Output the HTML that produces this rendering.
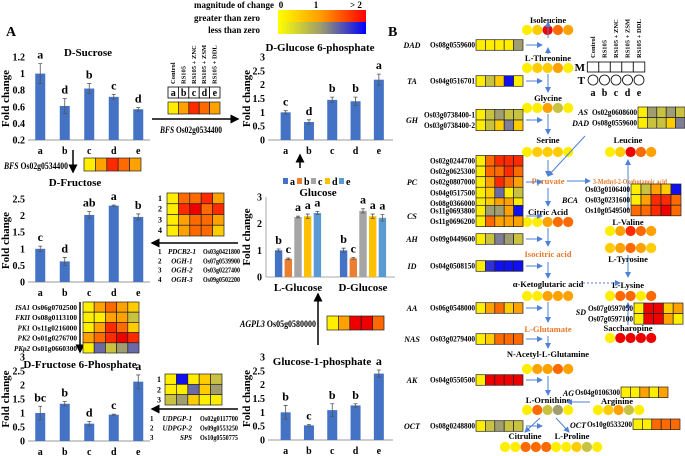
<!DOCTYPE html>
<html><head><meta charset="utf-8">
<style>
html,body{margin:0;padding:0;background:#fff;}
svg{display:block;font-family:"Liberation Serif",serif;font-weight:bold;}
</style></head>
<body>
<svg id="fig" width="685" height="456" viewBox="0 0 685 456" xmlns="http://www.w3.org/2000/svg">
<defs>
<linearGradient id="gTop" x1="0" x2="1"><stop offset="0" stop-color="#ffff00"/><stop offset="0.5" stop-color="#ff9900"/><stop offset="1" stop-color="#ff0000"/></linearGradient>
<linearGradient id="gBot" x1="0" x2="1"><stop offset="0" stop-color="#ffff00"/><stop offset="0.5" stop-color="#9a9a70"/><stop offset="1" stop-color="#0000ff"/></linearGradient>
<marker id="ah" markerWidth="6" markerHeight="6" refX="5" refY="3" orient="auto"><path d="M0,0 L6,3 L0,6 z" fill="#000"/></marker>
<marker id="ab" markerWidth="6" markerHeight="6" refX="5" refY="3" orient="auto"><path d="M0,0 L6,3 L0,6 z" fill="#4f81d6"/></marker>
</defs>
</svg>
<script>
// ---------- chart data ----------
var cats = ['a','b','c','d','e'];
var sucroseVals = [1.0, 0.61, 0.82, 0.72, 0.57];
var sucroseErr = [0.12, 0.09, 0.06, 0.03, 0.02];
var sucroseLet = ['a','d','b','c','d'];
var sucroseTicks = [0.2,0.4,0.6,0.8,1,1.2];
var fructoseVals = [1.0, 0.62, 2.02, 2.3, 1.96];
var fructoseErr = [0.08, 0.12, 0.1, 0.02, 0.09];
var fructoseLet = ['c','d','ab','a','b'];
var f6pVals = [1.0, 1.33, 0.62, 0.94, 2.12];
var f6pErr = [0.24, 0.08, 0.08, 0.02, 0.24];
var f6pLet = ['bc','b','d','c','a'];
var g6pVals = [1.0, 0.65, 1.45, 1.4, 2.18];
var g6pErr = [0.06, 0.08, 0.1, 0.15, 0.2];
var g6pLet = ['c','d','b','b','a'];
var g1pVals = [1.0, 0.53, 1.08, 1.25, 2.4];
var g1pErr = [0.25, 0.03, 0.23, 0.06, 0.13];
var g1pLet = ['b','c','b','b','a'];
var ticks03 = [0,0.5,1,1.5,2,2.5,3];
var ticks025 = [0,0.5,1,1.5,2,2.5];
var glucoseGroups = ['L-Glucose','D-Glucose'];
var lGlucoseVals = [1.0, 0.68, 2.25, 2.28, 2.4];
var lGlucoseErr = [0.05, 0.03, 0.03, 0.08, 0.06];
var dGlucoseVals = [1.0, 0.7, 2.48, 2.28, 2.22];
var dGlucoseErr = [0.08, 0.03, 0.08, 0.08, 0.12];
var glucoseLet = ['b','c','a','a','a'];
var glucoseTicks = [0,1,2,3];
var seriesColors = ['#4472c4','#ed7d31','#a5a5a5','#ffc000','#5b9bd5'];

var C = {Y:'#ffee00',L:'#ffcc00',O:'#ffa200',D:'#ff6a00',R:'#ff2a00',X:'#ee0000',K:'#c8c240',G:'#a09e70',S:'#7e7e96',P:'#6a6aa8',B:'#1010f0',Q:'#3030d8'};

var svg = document.getElementById('fig');
var NS = 'http://www.w3.org/2000/svg';
function mk(tag, parent){ var e=document.createElementNS(NS,tag); (parent||svg).appendChild(e); return e; }
function set(e,o){ for(var k in o) e.setAttribute(k,o[k]); return e; }
function txt(x,y,s,size,anchor,opt){
  var t=mk('text'); set(t,{x:x,y:y,'font-size':size||10,'text-anchor':anchor||'start'});
  if(opt){ set(t,opt); } t.textContent=s; return t;
}
function fit(t,len){ t.setAttribute('textLength',len); t.setAttribute('lengthAdjust','spacingAndGlyphs'); }

// ---------- bar chart ----------
function barChart(name,o){
  var g=mk('g');
  
  
  function ys(v){ return o.yB-(v-o.min)/(o.max-o.min)*(o.yB-o.yT); }
  o.ticks.forEach(function(tv){
    var t=mk('text',g); set(t,{x:o.tickX,y:ys(tv)+3.5,'font-size':10,'text-anchor':'end'}); t.textContent=tv;
    
    
  });
  var bl=mk('line',g); set(bl,{x1:o.axisX,x2:o.end,y1:o.yB,y2:o.yB,stroke:'#999','stroke-width':1});
  
  
  o.vals.forEach(function(v,i){
    var cx=o.start+o.band*(i+0.5);
    var r=mk('rect',g); set(r,{x:cx-5,y:ys(v),width:10,height:o.yB-ys(v),fill:'#4472c4'});
    
    
    var e=o.err[i], p=mk('path',g);
    set(p,{d:'M'+cx+','+ys(v+e)+'V'+ys(v-e)+'M'+(cx-2)+','+ys(v+e)+'h4M'+(cx-2)+','+ys(v-e)+'h4',stroke:'#555','stroke-width':0.8,fill:'none'});
    
    
    var lt=mk('text',g); set(lt,{x:cx,y:ys(v+e)-5,'font-size':12,'text-anchor':'middle'}); lt.textContent=o.lets[i];
    
    
    var xl=mk('text',g); set(xl,{x:cx,y:o.yB+14,'font-size':10,'text-anchor':'middle'}); xl.textContent=cats[i];
    
    
  });
  var yt=mk('text',g); set(yt,{x:0,y:0,'font-size':11,'text-anchor':'middle',transform:'translate('+o.ytX+','+((o.yT+o.yB)/2)+') rotate(-90)'}); yt.textContent='Fold change';
  
  
  var tt=mk('text',g); set(tt,{x:o.titleX,y:o.titleY,'font-size':11,'text-anchor':'middle'}); tt.textContent=o.title;
  
  
}
barChart('sucrose-chart',{vals:sucroseVals,err:sucroseErr,lets:sucroseLet,ticks:sucroseTicks,min:0.2,max:1.2,yT:57,yB:140,tickX:25,axisX:28,start:28,band:24.5,end:150,ytX:9,title:'D-Sucrose',titleX:88,titleY:56});
barChart('fructose-chart',{vals:fructoseVals,err:fructoseErr,lets:fructoseLet,ticks:ticks025,min:0,max:2.5,yT:199,yB:282,tickX:25,axisX:28,start:28,band:24.5,end:150,ytX:9,title:'D-Fructose',titleX:75,titleY:186});
barChart('fructose6p-chart',{vals:f6pVals,err:f6pErr,lets:f6pLet,ticks:ticks03,min:0,max:3,yT:357,yB:441,tickX:25,axisX:28,start:28,band:24.5,end:150,ytX:9,title:'D-Fructose 6-Phosphate',titleX:80,titleY:368});
barChart('glucose6p-chart',{vals:g6pVals,err:g6pErr,lets:g6pLet,ticks:ticks03,min:0,max:3,yT:57,yB:140,tickX:265,axisX:268,start:274,band:23.3,end:393,ytX:250,title:'D-Glucose 6-phosphate',titleX:320,titleY:51});
barChart('glucose1p-chart',{vals:g1pVals,err:g1pErr,lets:g1pLet,ticks:ticks03,min:0,max:3,yT:357,yB:440,tickX:265,axisX:268,start:274,band:23.3,end:393,ytX:250,title:'Glucose-1-phosphate',titleX:322,titleY:365});

// ---------- grouped glucose chart ----------
(function(){
  var g=mk('g');
  
  
  var yT=197,yB=277,max=3;
  function ys(v){ return yB-v/max*(yB-yT); }
  var ax=mk('line',g); set(ax,{x1:266,x2:266,y1:yT,y2:yB,stroke:'#aaa'});
  
  
  var bl=mk('line',g); set(bl,{x1:266,x2:395,y1:yB,y2:yB,stroke:'#aaa'});
  
  
  glucoseTicks.forEach(function(tv){
    var t=mk('text',g); set(t,{x:262,y:ys(tv)+3.5,'font-size':10,'text-anchor':'end'}); t.textContent=tv;
    
    
  });
  var groupVals=[lGlucoseVals,dGlucoseVals], groupErr=[lGlucoseErr,dGlucoseErr], centers=[298,363];
  groupVals.forEach(function(vals,gi){
    vals.forEach(function(v,i){
      var cx=centers[gi]+(i-2)*9.7, e=groupErr[gi][i];
      var r=mk('rect',g); set(r,{x:cx-3.7,y:ys(v),width:7.4,height:yB-ys(v),fill:seriesColors[i]});
      
      
      var p=mk('path',g); set(p,{d:'M'+cx+','+ys(v+e)+'V'+ys(v-e)+'M'+(cx-2)+','+ys(v+e)+'h4M'+(cx-2)+','+ys(v-e)+'h4',stroke:'#555','stroke-width':0.8});
      
      
      var lt=mk('text',g); set(lt,{x:cx,y:ys(v+e)-5,'font-size':12,'text-anchor':'middle'}); lt.textContent=glucoseLet[i];
      
      
    });
    var cl=mk('text',g); set(cl,{x:centers[gi],y:yB+14,'font-size':11,'text-anchor':'middle'}); cl.textContent=glucoseGroups[gi];
    
    
  });
  var yt=mk('text',g); set(yt,{x:0,y:0,'font-size':11,'text-anchor':'middle',transform:'translate(250,237) rotate(-90)'}); yt.textContent='Fold change';
  
  
  var tt=mk('text',g); set(tt,{x:318,y:196,'font-size':11,'text-anchor':'middle'}); tt.textContent='Glucose';
  
  
  cats.forEach(function(c,i){
    var s=mk('rect',g); set(s,{x:283+i*14,y:178,width:5,height:6,fill:seriesColors[i]});
    
    
    var l=mk('text',g); set(l,{x:290+i*14,y:185,'font-size':10}); l.textContent=c;
    
    
  });
})();

// ---------- heatmaps ----------
function heat(name,x,y,w,h,rows){
  var g=mk('g');
  
  
  var cw=w/5, rh=h/rows.length;
  rows.forEach(function(r,ri){
    r.split('').forEach(function(c,ci){
      var re=mk('rect',g); set(re,{x:x+ci*cw,y:y+ri*rh,width:cw,height:rh,fill:C[c],stroke:'#222','stroke-width':0.7});
      
      
    });
  });
}
function circles(name,x,y,code){
  var g=mk('g');
  
  
  code.split('').forEach(function(c,i){
    var ci=mk('circle',g); set(ci,{cx:x+i*10.3,cy:y,r:5.1,fill:C[c]});
    
    
  });
}
function line(x1,y1,x2,y2,col,mark,dash){
  var l=mk('line'); set(l,{x1:x1,y1:y1,x2:x2,y2:y2,stroke:col,'stroke-width':col=='#000'?1.5:1});
  if(mark) l.setAttribute('marker-end','url(#'+mark+')');
  if(dash) l.setAttribute('stroke-dasharray','2,2');
  
  
}

var pa=txt(6,36,'A',14);  
var pb=txt(388,36,'B',14);  
var k1=mk('rect'); set(k1,{x:278,y:10,width:88,height:12,fill:'url(#gTop)'});
 
var k2=mk('rect'); set(k2,{x:278,y:22,width:88,height:12,fill:'url(#gBot)'});
 
[['magnitude of change',274,8],['greater than zero',260,21],['less than zero',260,33]].forEach(function(a){
  var t=txt(a[1],a[2],a[0],9,'end');  
});
[['0',281],['1',316],['> 2',356]].forEach(function(a){
  var t=txt(a[1],8,a[0],9,'middle');  
});

['Control','RS105','RS105 + ZNC','RS105 + ZSM','RS105 + DDL'].forEach(function(s,i){
  var t=txt(0,0,s,6.5,'start',{transform:'translate('+(175+i*10.4)+',84) rotate(-90)'});
   
  var b=mk('rect'); set(b,{x:168+i*10.4,y:87,width:10.4,height:11,fill:'#fff',stroke:'#000','stroke-width':0.8});
   
  var l=txt(173.2+i*10.4,96,cats[i],10,'middle');  
});
heat('bfs-heat-top',168,102,52,12,['YORDO']);
line(152,119,238,119,'#000','ah');
var bf=txt(160,133,'',9); bf.innerHTML='<tspan font-style="italic">BFS</tspan> Os02g0534400'; fit(bf,62);
 
var bf2=txt(4,169,'',9); bf2.innerHTML='<tspan font-style="italic">BFS</tspan> Os02g0534400'; fit(bf2,64);
 
line(73,150,73,172,'#000','ah');
heat('bfs-heat-left',84,158,57,13,['YORDO']);

heat('ogh-heat',167,193,57,43,['YDDRO','YRXDR','YODDO','YODDL']);
['1','2','3','4'].forEach(function(s,i){ var t=txt(162,201+i*10.7,s,8,'end');   });
line(238,243,152,243,'#000','ah');
[['1','PDCB2-1','Os03g0421800'],['2','OGH-1','Os07g0539900'],['3','OGH-2','Os03g0227400'],['4','OGH-3','Os09g0502200']].forEach(function(a,i){
  var n=txt(158,254+i*9.3,a[0],7);  
  var t=txt(182,254+i*9.3,a[1],7,'middle',{'font-style':'italic'});
   
  var t2=txt(240,254+i*9.3,a[2],7.5,'end'); fit(t2,37);  
});
[['ISA1','Os06g0702500'],['FKII','Os08g0113100'],['PK1','Os11g0216000'],['PK2','Os01g0276700'],['PKp2','Os01g0660300']].forEach(function(a,i){
  var t=txt(30,310+i*10.2,a[0],7,'end',{'font-style':'italic'});  
  var t2=txt(32,310+i*10.2,a[1],7.5); fit(t2,45);  
});
line(80,302,80,352,'#000','ah');
heat('glycolysis-heat',83,302,56,51,['YODOL','YYOOK','YORDL','ODRXR','YPKGP']);
heat('udpgp-heat',165,374,57,31,['YBYLK','YYPLG','KGLYY']);
['1','2','3'].forEach(function(s,i){ var t=txt(161,382+i*10.3,s,8,'end');   });
line(238,409,152,409,'#000','ah');
[['1','UDPGP-1','Os02g0117700'],['2','UDPGP-2','Os09g0553250'],['3','SPS','Os10g0550775']].forEach(function(a,i){
  var n=txt(150,421+i*9.5,a[0],7);  
  var t=txt(192,421+i*9.5,a[1],7,'end',{'font-style':'italic'});  
  var t2=txt(238,421+i*9.5,a[2],7.5,'end'); fit(t2,38);  
});
line(300,168,300,155,'#000','ah');
line(318,345,318,294,'#000','ah');
var ag=txt(240,327,'',9,'start'); ag.innerHTML='<tspan font-style="italic">AGPL3</tspan> Os05g0580000'; fit(ag,76);
 
heat('agpl3-heat',327,316,57,14,['YOXXD']);

// ---------- Panel B ----------
var BL='#4f81d6';
var mets=[['Isoleucine',548,23,'#000'],['L-Threonine',548,61,'#000'],['Glycine',548,101,'#000'],['Serine',548,143,'#000'],['Pyruvate',548,184,'#e8782a'],['Citric Acid',548,215,'#000'],['Isocitric acid',548,257,'#e8782a'],['α-Ketoglutaric acid',548,287,'#000'],['L-Glutamate',548,332,'#e8782a'],['N-Acetyl-L-Glutamine',548,357,'#000'],['L-Ornithine',548,403,'#000'],['Citruline',525,439,'#000'],['L-Proline',572,439,'#000'],['Leucine',628,143,'#000'],['L-Valine',628,225,'#000'],['L-Tyrosine',628,262,'#000'],['L-Lysine',628,288,'#000'],['Saccharopine',628,331,'#000'],['Arginine',617,404,'#000']];
mets.forEach(function(m){ var t=txt(m[1],m[2],m[0],8.5,'middle',{fill:m[3]});   });
var mo=txt(593,184,'3-Methyl-2-Oxobutanoic acid',7,'start',{fill:'#e8782a'}); fit(mo,74);  
circles('isoleucine-dots',527,30,'YLXDO');
circles('threonine-dots',527,68,'YLLOY');
circles('glycine-dots',527,108,'YYOKY');
circles('serine-dots',527,152,'YLLLY');
circles('citric-dots',527,222,'YYODD');
circles('ketoglutaric-dots',527,296,'YYOOO');
circles('acetylglutamine-dots',527,369,'YOODO');
circles('ornithine-dots',527,410,'YDKGY');
circles('citruline-dots',505,447,'YYDDD');
circles('proline-dots',556,447,'YYLKY');
circles('leucine-dots',610,152,'YLXDO');
circles('valine-dots',610,231,'YORDO');
circles('tyrosine-dots',610,248,'LODOL');
circles('lysine-dots',610,296,'YDDYD');
circles('saccharopine-dots',610,338,'YXXXX');
circles('arginine-dots',598,410,'YLOKY');
[[38,22],[54,48],[74,92],[114,134],[160,176],[188,206],[228,246],[262,278],[302,322],[336,348],[376,395]].forEach(function(a){ line(548,a[0],548,a[1],BL,'ab'); });
line(540,418,525,432,BL,'ab'); line(556,418,569,432,BL,'ab');
line(567,181,590,181,BL,'ab'); line(628,210,628,160,BL,'ab'); line(628,255,628,277,BL,'ab');
line(583,283,620,283,BL,'ab',true); line(628,325,628,303,BL,'ab');
line(585,136,548,176,BL,'ab'); line(590,402,567,402,BL,'ab');
var leftGenes=[['DAD','Os08g0559600',45,['YYYYG']],['TA','Os04g0516701',81,['YKLBY']],['GH','',120,['YKGKK','YKLSL']],['PC','',182,['YDRRR','YDDRD','YORDO','YLPYK','YLOOY']],['CS','',216,['YGGOB','YDOOO']],['AH','Os09g0449600',239,['YKSGK']],['ID','Os04g0508150',266,['YQBBB']],['AA','Os06g0548000',308,['YODLO']],['NAS','Os03g0279400',339,['YLDDD']],['AK','Os04g0550500',380,['YXXXX']],['OCT','Os08g0248800',426,['YKGKK']]];
var multiIds={GH:['Os03g0738400-1','Os03g0738400-2'],PC:['Os02g0244700','Os02g0625300','Os02g0807000','Os04g0517500','Os08g0366000'],CS:['Os11g0693800','Os11g0696200']};
leftGenes.forEach(function(gd){
  var n=gd[3].length, rh=10.6, y0=gd[2]-n*rh/2;
  var s=txt(412,gd[2]+3,gd[0],8,'middle',{'font-style':'italic'});  
  var ids=multiIds[gd[0]]||[gd[1]];
  ids.forEach(function(id,i){ var t=txt(475,y0+i*rh+8,id,8,'end'); fit(t,id.length>12?51:45);   });
  heat('heat-'+gd[0].toLowerCase(),476,y0,47,n*rh,gd[3]);
  line(526,gd[2],542,gd[2],BL,'ab');
});
[['AS / DAD',['Os02g0608600','Os08g0559600'],['YGKGK','YKKLS'],638,107,47],['BCA',['Os03g0106400','Os03g0231600','Os10g0549500'],['YKOLB','YORRD','DDRXD'],631,184,50],['SD',['Os07g0597050','Os07g0597100'],['YXXLO','YXXOY'],634,303,49],['AG',['Os04g0106300'],['YYOYO'],621,387,47],['OCT',['Os10g0533200'],['YYDDD'],633,419,47]].forEach(function(r){
  var rh=10.6;
  r[1].forEach(function(id,i){ var t=txt(r[3]-1,r[4]+i*rh+8,id,8,'end'); fit(t,45);   });
  heat('heat-'+r[0].replace(/\W/g,'').toLowerCase(),r[3],r[4],r[5],r[1].length*rh,r[2]);
});
[['AS',588,115],['DAD',589,126],['BCA',578,203],['SD',586,315],['AG',574,396],['OCT',586,428]].forEach(function(a){
  var t=txt(a[1],a[2],a[0],8,'end',{'font-style':'italic'});  
});
['Control','RS105','RS105 + ZNC','RS105 + ZSM','RS105 + DDL'].forEach(function(s,i){
  var cx=593+i*11.5;
  var t=txt(0,0,s,6.5,'start',{transform:'translate('+(cx+2)+',58) rotate(-90)'});  
  var b=mk('rect'); set(b,{x:cx-5.7,y:62,width:11.5,height:10,fill:'#fff',stroke:'#000','stroke-width':0.8});  
  var c=mk('circle'); set(c,{cx:cx,cy:80,r:5,fill:'#fff',stroke:'#000','stroke-width':0.8});  
  var l=txt(cx,96,cats[i],10,'middle');  
});
var mm=txt(585,71,'M',11,'end');  
var tt=txt(585,84,'T',11,'end');  
</script>
</body></html>
